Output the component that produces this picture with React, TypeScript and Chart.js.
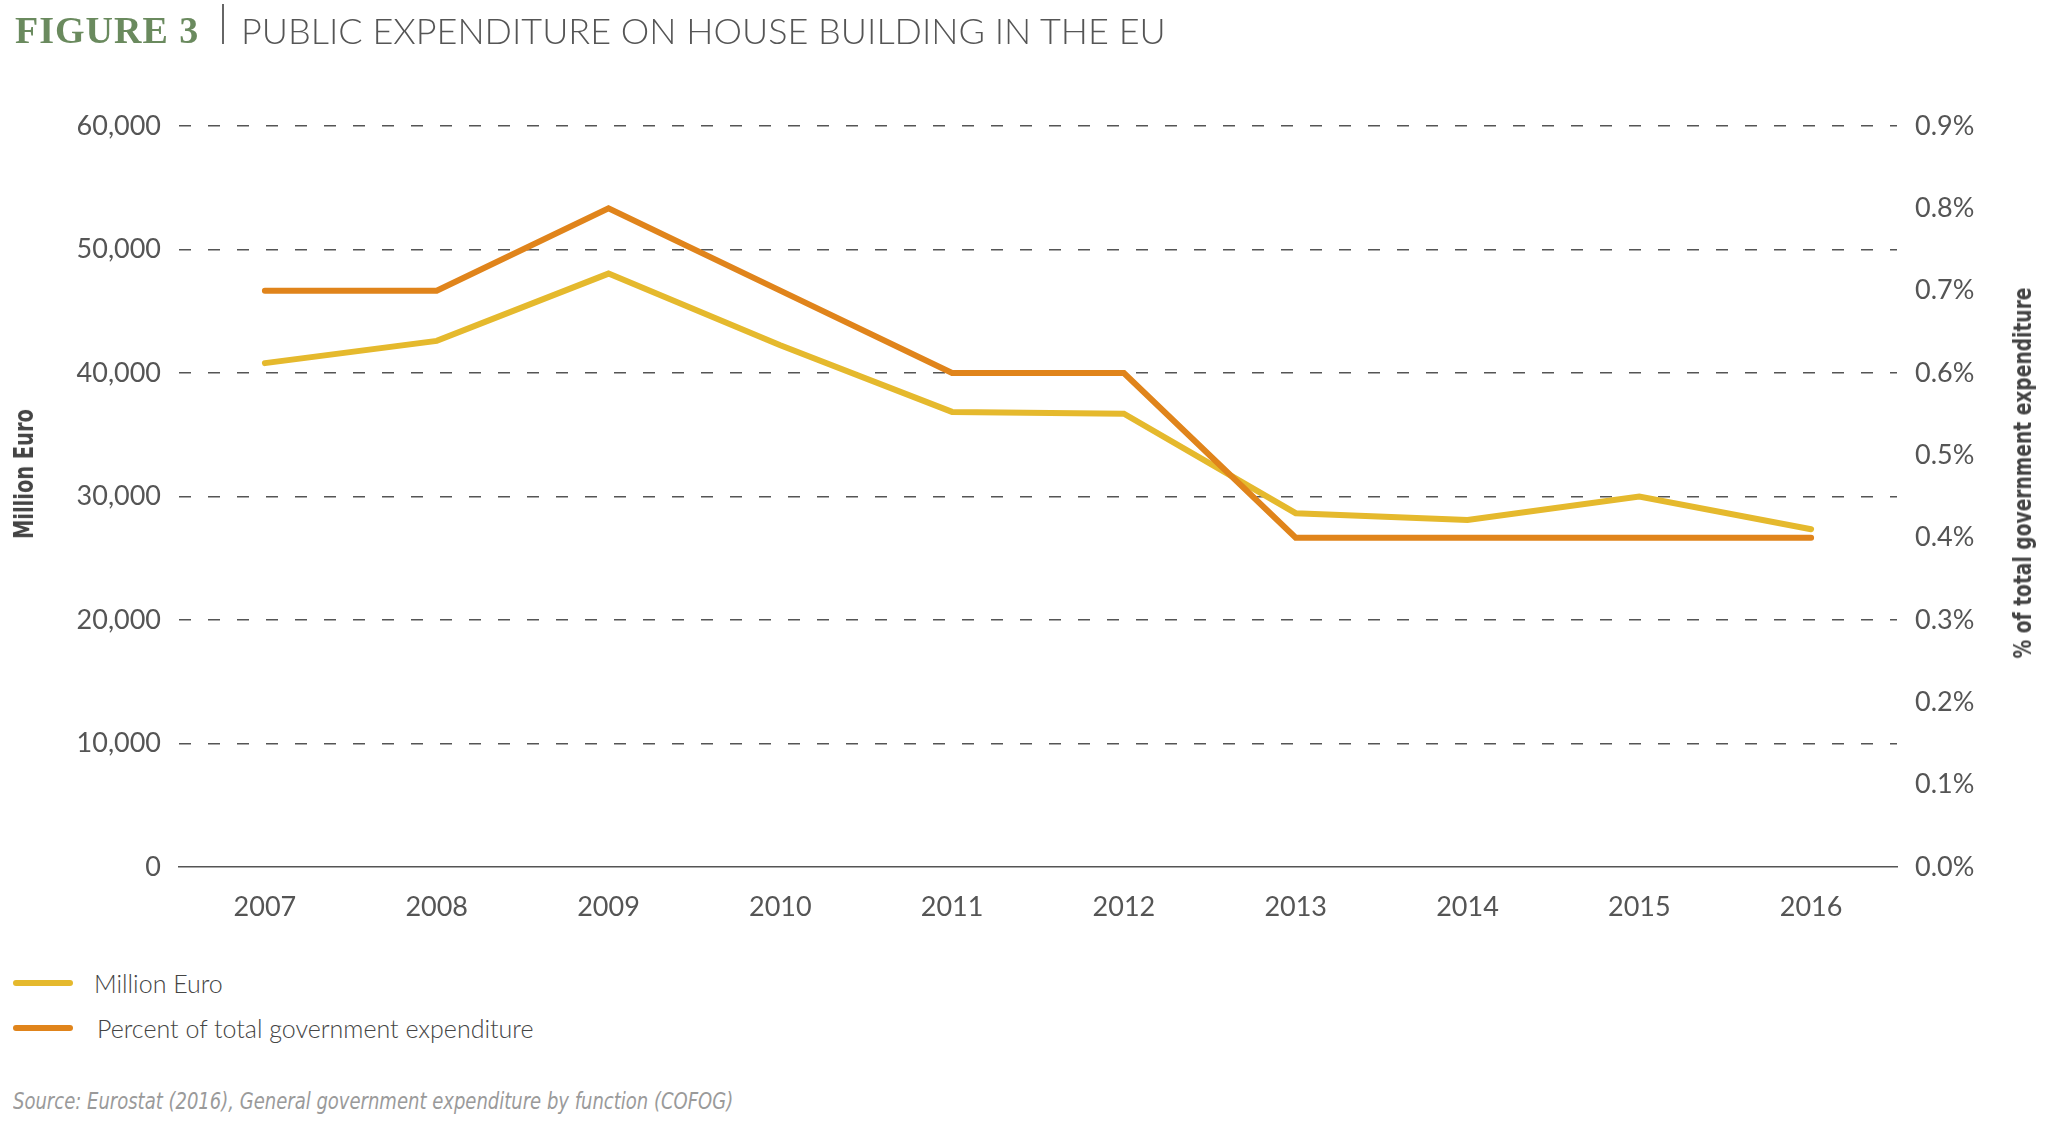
import React, { useEffect, useRef } from 'react';
import Chart from 'chart.js/auto';

const years = ['2007', '2008', '2009', '2010', '2011', '2012', '2013', '2014', '2015', '2016'];
const millionEuro = [40800, 42600, 48050, 42250, 36850, 36700, 28650, 28100, 30000, 27350];
const percentOfTotal = [0.7, 0.7, 0.8, 0.7, 0.6, 0.6, 0.4, 0.4, 0.4, 0.4];
const leftTicks = [0, 10000, 20000, 30000, 40000, 50000, 60000];
const rightTicks = [0, 0.1, 0.2, 0.3, 0.4, 0.5, 0.6, 0.7, 0.8, 0.9];

const YELLOW = '#E5B92D';
const ORANGE = '#E0841B';
const GRAY = '#555555';
const TICK_FONT = { family: 'Lato, "Open Sans", sans-serif', size: 27, weight: '400' as any };

export default function App() {
  const canvasRef = useRef<HTMLCanvasElement | null>(null);

  useEffect(() => {
    document.body.style.margin = '0';
    const canvas = canvasRef.current;
    if (!canvas) return;
    const chart = new Chart(canvas, {
      type: 'line',
      data: {
        labels: years,
        datasets: [
          {
            label: 'Million Euro',
            data: millionEuro,
            yAxisID: 'y',
            borderColor: YELLOW,
            backgroundColor: YELLOW,
            borderWidth: 6,
            pointRadius: 0,
            borderCapStyle: 'round',
            borderJoinStyle: 'miter',
            tension: 0,
            order: 2,
          },
          {
            label: 'Percent of total government expenditure',
            data: percentOfTotal,
            yAxisID: 'y1',
            borderColor: ORANGE,
            backgroundColor: ORANGE,
            borderWidth: 6,
            pointRadius: 0,
            borderCapStyle: 'round',
            borderJoinStyle: 'miter',
            tension: 0,
            order: 1,
          },
        ],
      },
      options: {
        responsive: false,
        animation: false,
        devicePixelRatio: 1,
        layout: { padding: { left: 0, right: 0, top: 126, bottom: 0 } },
        plugins: { legend: { display: false }, tooltip: { enabled: false }, title: { display: false } },
        scales: {
          x: {
            type: 'category',
            offset: true,
            grid: { display: false, drawTicks: false },
            border: { display: true, color: GRAY, width: 1.5 },
            ticks: { color: GRAY, font: TICK_FONT, padding: 24, maxRotation: 0 },
            afterFit: (s: any) => { s.height = 950 - 867; },
          },
          y: {
            type: 'linear',
            position: 'left',
            min: 0,
            max: 60000,
            afterBuildTicks: (s: any) => { s.ticks = leftTicks.map((v) => ({ value: v })); },
            ticks: {
              color: GRAY,
              font: TICK_FONT,
              padding: 18,
              callback: (v: any) => Number(v).toLocaleString('en-US'),
            },
            grid: {
              drawTicks: false,
              lineWidth: 1.5,
              color: (ctx: any) => (ctx.tick && ctx.tick.value === 0 ? 'rgba(0,0,0,0)' : GRAY),
            },
            border: { display: false, dash: [12, 17] },
            afterFit: (s: any) => { s.width = 179; },
          },
          y1: {
            type: 'linear',
            position: 'right',
            min: 0,
            max: 0.9,
            afterBuildTicks: (s: any) => { s.ticks = rightTicks.map((v) => ({ value: v })); },
            ticks: {
              color: GRAY,
              font: TICK_FONT,
              padding: 18,
              callback: (v: any) => Number(v).toFixed(1) + '%',
            },
            grid: { display: false, drawTicks: false },
            border: { display: false },
            afterFit: (s: any) => { s.width = 2053 - 1897; },
          },
        },
      },
    });
    return () => chart.destroy();
  }, []);

  const abs = (style: React.CSSProperties): React.CSSProperties => ({ position: 'absolute', whiteSpace: 'nowrap', ...style });
  const condensed = '"Liberation Sans Narrow", "DejaVu Sans Condensed", sans-serif';

  return (
    <div style={{ position: 'relative', width: 2053, height: 1134, background: '#fff', overflow: 'hidden' }}>
      <canvas ref={canvasRef} width={2053} height={950} style={{ position: 'absolute', left: 0, top: 0, width: 2053, height: 950 }} />
      <div style={abs({ left: 15, top: 10, fontFamily: '"Liberation Serif", serif', fontWeight: 700, fontSize: 38, lineHeight: '40px', letterSpacing: 1, color: '#6A8A5E' })}>FIGURE 3</div>
      <div style={abs({ left: 222, top: 4, width: 1.5, height: 40, background: '#666' })} />
      <div style={abs({ left: 241, top: 9, fontFamily: 'Lato, sans-serif', fontWeight: 300, fontSize: 36, lineHeight: '42px', color: GRAY })}>PUBLIC EXPENDITURE ON HOUSE BUILDING IN THE EU</div>
      <div style={abs({ left: 24, top: 474, fontFamily: condensed, fontWeight: 700, fontSize: 26, lineHeight: '30px', color: '#444', transform: 'translate(-50%, -50%) rotate(-90deg) scaleX(0.83)' })}>Million Euro</div>
      <div style={abs({ left: 2023, top: 473, fontFamily: condensed, fontWeight: 700, fontSize: 25, lineHeight: '30px', color: '#444', transform: 'translate(-50%, -50%) rotate(-90deg) scaleX(0.83)' })}>% of total government expenditure</div>
      <div style={abs({ left: 13, top: 980, width: 60, height: 6, borderRadius: 3, background: YELLOW })} />
      <div style={abs({ left: 13, top: 1025, width: 60, height: 6, borderRadius: 3, background: ORANGE })} />
      <div style={abs({ left: 94, top: 966, fontFamily: 'Lato, sans-serif', fontWeight: 300, fontSize: 25, lineHeight: '34px', color: '#444' })}>Million Euro</div>
      <div style={abs({ left: 97, top: 1011, fontFamily: 'Lato, sans-serif', fontWeight: 300, fontSize: 25, lineHeight: '34px', color: '#444' })}>Percent of total government expenditure</div>
      <div style={abs({ left: 13, top: 1085, fontFamily: condensed, fontStyle: 'italic', fontSize: 23, lineHeight: '32px', color: '#9A9A9A', transform: 'scaleX(0.87)', transformOrigin: 'left center' })}>Source: Eurostat (2016), General government expenditure by function (COFOG)</div>
    </div>
  );
}
